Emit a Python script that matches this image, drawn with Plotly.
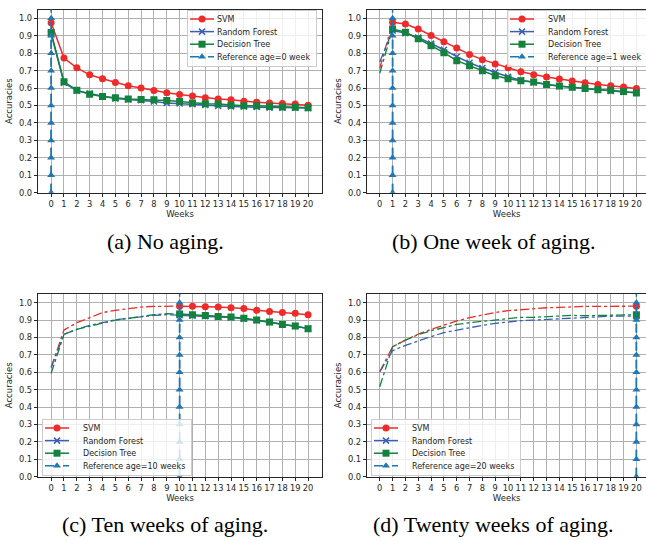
import plotly.graph_objects as go

weeks = list(range(21))
y_ticks = [round(0.1 * i, 1) for i in range(11)]
y_tick_labels = ["%.1f" % v for v in y_ticks]

# Panel (a): reference age 0
a_svm = [0.975, 0.772, 0.716, 0.676, 0.653, 0.632, 0.613, 0.600, 0.586, 0.573, 0.563,
         0.554, 0.544, 0.538, 0.533, 0.525, 0.519, 0.515, 0.511, 0.508, 0.502]
a_rf = [0.91, 0.630, 0.585, 0.568, 0.553, 0.540, 0.535, 0.530, 0.523, 0.515, 0.512,
        0.508, 0.503, 0.497, 0.494, 0.494, 0.492, 0.488, 0.488, 0.487, 0.486]
a_dt = [0.918, 0.636, 0.588, 0.565, 0.552, 0.544, 0.538, 0.534, 0.533, 0.529, 0.523,
        0.515, 0.510, 0.508, 0.502, 0.498, 0.498, 0.494, 0.492, 0.490, 0.487]

# Panel (b): reference age 1
b_svm = [0.713, 0.977, 0.967, 0.939, 0.902, 0.866, 0.830, 0.793, 0.763, 0.738, 0.717,
         0.694, 0.677, 0.663, 0.652, 0.641, 0.631, 0.621, 0.614, 0.606, 0.598]
b_rf = [0.750, 0.930, 0.915, 0.890, 0.855, 0.820, 0.780, 0.745, 0.715, 0.690, 0.665,
        0.645, 0.632, 0.620, 0.610, 0.605, 0.598, 0.590, 0.583, 0.577, 0.575]
b_dt = [0.685, 0.939, 0.920, 0.883, 0.843, 0.803, 0.757, 0.728, 0.700, 0.671, 0.654,
        0.642, 0.635, 0.621, 0.612, 0.604, 0.598, 0.591, 0.587, 0.581, 0.572]

# Panel (c): reference age 10
c_svm = [0.628, 0.843, 0.885, 0.916, 0.943, 0.956, 0.967, 0.975, 0.979, 0.981, 0.980,
         0.980, 0.977, 0.975, 0.971, 0.966, 0.956, 0.950, 0.944, 0.939, 0.931]
c_rf = [0.628, 0.818, 0.847, 0.870, 0.885, 0.902, 0.910, 0.920, 0.927, 0.931, 0.928,
        0.925, 0.922, 0.918, 0.915, 0.908, 0.899, 0.888, 0.876, 0.866, 0.852]
c_dt = [0.594, 0.818, 0.847, 0.866, 0.885, 0.900, 0.910, 0.921, 0.931, 0.937, 0.935,
        0.931, 0.927, 0.920, 0.918, 0.910, 0.900, 0.889, 0.875, 0.866, 0.851]

# Panel (d): reference age 20
d_svm = [0.603, 0.747, 0.785, 0.820, 0.847, 0.872, 0.895, 0.914, 0.931, 0.944, 0.954,
         0.960, 0.966, 0.971, 0.973, 0.977, 0.979, 0.979, 0.980, 0.980, 0.980]
d_rf = [0.603, 0.724, 0.755, 0.782, 0.805, 0.828, 0.843, 0.856, 0.870, 0.881, 0.889,
        0.897, 0.900, 0.904, 0.908, 0.914, 0.918, 0.920, 0.922, 0.923, 0.923]
d_dt = [0.517, 0.747, 0.785, 0.816, 0.839, 0.858, 0.875, 0.885, 0.893, 0.898, 0.906,
        0.916, 0.916, 0.921, 0.925, 0.927, 0.925, 0.927, 0.929, 0.931, 0.931]

panels = [
    dict(ref=0, svm=a_svm, rf=a_rf, dt=a_dt, ref_label="Reference age=0 week",
         caption="(a) No aging."),
    dict(ref=1, svm=b_svm, rf=b_rf, dt=b_dt, ref_label="Reference age=1 week",
         caption="(b) One week of aging."),
    dict(ref=10, svm=c_svm, rf=c_rf, dt=c_dt, ref_label="Reference age=10 weeks",
         caption="(c) Ten weeks of aging."),
    dict(ref=20, svm=d_svm, rf=d_rf, dt=d_dt, ref_label="Reference age=20 weeks",
         caption="(d) Twenty weeks of aging."),
]

W, H = 646, 540
SVM_C = "#ee2a2a"
RF_C = "#3b5fb3"
DT_C = "#13823f"
REF_C = "#1f77b4"
GRID = "#b0b0b0"
AXC = "#262626"
TICK_FS = 8.3

# pixel geometry of each plot area (left, right, top, bottom) and x range
geom = [
    (38.3, 321.7, 9.6, 192.7, [-1, 21.06]),
    (367.3, 646.0, 9.6, 192.7, [-0.97, 20.75]),
    (38.3, 321.7, 294.0, 476.7, [-1, 21.06]),
    (367.3, 646.0, 294.0, 476.7, [-0.97, 20.75]),
]
legend_pos = [
    dict(x=187 / W, y=1 - 10 / H),
    dict(x=507 / W, y=1 - 10 / H),
    dict(x=42 / W, y=1 - 419 / H),
    dict(x=371 / W, y=1 - 419 / H),
]
caption_pos = [(165, 241), (493.5, 241), (165, 524), (493.5, 524)]

fig = go.Figure()
layout = dict(width=W, height=H, autosize=False,
              margin=dict(l=0, r=0, t=0, b=0, autoexpand=False),
              paper_bgcolor="white", plot_bgcolor="white", showlegend=True,
              annotations=[], shapes=[])

models = [("SVM", "svm", SVM_C, "circle", 7),
          ("Random Forest", "rf", RF_C, "x-thin-open", 6),
          ("Decision Tree", "dt", DT_C, "square", 7)]

for i, p in enumerate(panels):
    k = "" if i == 0 else str(i + 1)
    xa, ya = "x" + k, "y" + k
    leg = "legend" + k
    ref = p["ref"]
    # dash-dot segments before the reference age
    if ref > 0:
        for name, key, col, sym, ms in models:
            fig.add_trace(go.Scatter(
                x=weeks[:ref + 1], y=p[key][:ref + 1], mode="lines",
                line=dict(color=col, width=1.3, dash="dashdot"),
                xaxis=xa, yaxis=ya, showlegend=False, hoverinfo="skip"))
    for name, key, col, sym, ms in models:
        mk = dict(symbol=sym, size=ms, color=col)
        if sym == "x-thin-open":
            mk["line"] = dict(color=col, width=1.5)
        fig.add_trace(go.Scatter(
            x=weeks[ref:], y=p[key][ref:], mode="lines+markers", name=name,
            line=dict(color=col, width=1.5), marker=mk,
            xaxis=xa, yaxis=ya, legend=leg))
    fig.add_trace(go.Scatter(
        x=[ref] * len(y_ticks), y=y_ticks, mode="lines+markers", name=p["ref_label"],
        line=dict(color=REF_C, width=1.5, dash="dash"),
        marker=dict(symbol="triangle-up", size=7, color=REF_C),
        xaxis=xa, yaxis=ya, legend=leg))
    l, r, t, b, xr = geom[i]
    layout["xaxis" + k] = dict(
        domain=[l / W, r / W], range=xr, anchor=ya, tickmode="array",
        tickvals=weeks, ticktext=[str(w) for w in weeks], tickangle=0, showgrid=True,
        gridcolor=GRID, gridwidth=1, zeroline=False, showline=True, linecolor=AXC,
        linewidth=1, mirror=True, ticks="outside", ticklen=3.5, tickcolor=AXC,
        tickfont=dict(family="DejaVu Sans", size=TICK_FS, color=AXC),
        title=dict(text="Weeks", font=dict(family="DejaVu Sans", size=8.5, color=AXC),
                   standoff=1))
    layout["yaxis" + k] = dict(
        domain=[1 - b / H, 1 - t / H], range=[0, 1.05], anchor=xa, tickmode="array",
        tickvals=y_ticks, ticktext=y_tick_labels, showgrid=True, gridcolor=GRID,
        gridwidth=1, zeroline=False, showline=True, linecolor=AXC, linewidth=1,
        mirror=(i % 2 == 0), ticks="outside", ticklen=3.5, tickcolor=AXC,
        tickfont=dict(family="DejaVu Sans", size=TICK_FS, color=AXC),
        title=dict(text="Accuracies", font=dict(family="DejaVu Sans", size=8.5, color=AXC),
                   standoff=4))
    layout[leg] = dict(**legend_pos[i], xanchor="left", yanchor="top",
                       bgcolor="rgba(255,255,255,0.8)",
                       bordercolor="#cccccc", borderwidth=1,
                       font=dict(family="DejaVu Sans", size=8, color=AXC),
                       itemwidth=30, tracegroupgap=0)
    layout["shapes"].append(dict(type="line", xref=xa, yref=ya + " domain",
                                 x0=ref, x1=ref, y0=0, y1=1,
                                 line=dict(color=REF_C, width=1.5, dash="dash")))
    cx, cy = caption_pos[i]
    layout["annotations"].append(dict(
        text=p["caption"], x=cx / W, y=1 - cy / H, xref="paper", yref="paper",
        xanchor="center", yanchor="middle", showarrow=False,
        font=dict(family="Liberation Serif", size=22, color="black")))

fig.update_layout(**layout)

# Page without body margin, and compact matplotlib-like legend entries.
post = r"""
(function(){
  document.documentElement.style.margin = '0';
  document.documentElement.style.padding = '0';
  document.documentElement.style.overflow = 'hidden';
  document.body.style.margin = '0';
  document.body.style.padding = '0';
  document.body.style.overflow = 'hidden';
  var gd = document.getElementById('{plot_id}');
  if(gd){ gd.style.width = '646px'; gd.style.height = '540px'; }
  var S = 12.6, Y0 = 9, TX = 29;
  function parseT(t){
    var m = /translate\(\s*([-\d.e]+)[ ,]+([-\d.e]+)\s*\)/.exec(t || '');
    return m ? [parseFloat(m[1]), parseFloat(m[2])] : [0, 0];
  }
  function clipRects(el){
    var out = [];
    if(!el) return out;
    var cp = el.getAttribute('clip-path') || (el.style && el.style.clipPath) || '';
    var m = /url\(\s*['"]?[^#'")]*#([^'")]+)['"]?\s*\)/.exec(cp);
    if(m){
      var c = document.getElementById(m[1]);
      if(c) c.querySelectorAll('rect').forEach(function(r){ out.push(r); });
    }
    return out;
  }
  function fix(){
    try {
      ['legend','legend2','legend3','legend4'].forEach(function(id){
        var g = gd.querySelector('g.' + id);
        if(!g) return;
        var items = g.querySelectorAll('g.traces');
        if(items.length < 2) return;
        var ys = [], xs = [];
        items.forEach(function(it){ var p = parseT(it.getAttribute('transform')); xs.push(p[0]); ys.push(p[1]); });
        var maxW = 0;
        items.forEach(function(it, i){
          it.setAttribute('transform', 'translate(' + xs[i] + ',' + (Y0 + i * S) + ')');
          it.querySelectorAll('path.js-line').forEach(function(pp){ pp.setAttribute('d', 'M2,0h24'); });
          it.querySelectorAll('g.legendpoints path.scatterpts').forEach(function(pp){ pp.setAttribute('transform', 'translate(14,0)'); });
          it.querySelectorAll('text.legendtext').forEach(function(tx){
            tx.setAttribute('x', TX);
            tx.querySelectorAll('tspan').forEach(function(ts){ if(ts.getAttribute('x')) ts.setAttribute('x', TX); });
            try { maxW = Math.max(maxW, tx.getBBox().width); } catch(e) {}
          });
        });
        var newH = 2 * Y0 + (items.length - 1) * S;
        var newW = xs[0] + TX + maxW + 6;
        items.forEach(function(it){
          var toggle = it.querySelector('rect.legendtoggle');
          if(toggle){ toggle.setAttribute('height', S); toggle.setAttribute('y', -S/2);
                      if(maxW > 0) toggle.setAttribute('width', newW - 2); }
        });
        var bg = g.querySelector('rect.bg');
        if(bg){
          bg.setAttribute('height', newH);
          if(maxW > 0) bg.setAttribute('width', newW);
        }
        var clipEls = [g, g.querySelector('g.scrollbox'), g.querySelector('g.groups')];
        clipEls.forEach(function(el){
          clipRects(el).forEach(function(cr){
            cr.setAttribute('x', 0); cr.setAttribute('y', 0);
            cr.setAttribute('height', newH + 4);
            cr.setAttribute('width', newW + 4);
          });
          if(el && el !== g && el.getAttribute('clip-path')) el.removeAttribute('clip-path');
        });
      });
    } catch(e) {}
  }
  fix();
  if(gd && gd.on) gd.on('plotly_afterplot', fix);
  setTimeout(fix, 50);
  setTimeout(fix, 300);
})();
"""

fig.write_html("out.html", post_script=post,
               config={"displayModeBar": False, "responsive": False, "staticPlot": True})
